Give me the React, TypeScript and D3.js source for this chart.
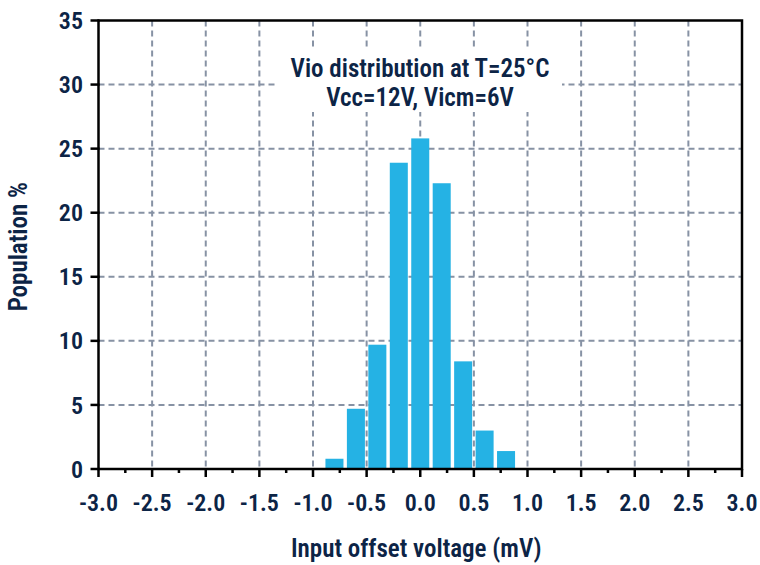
import React from "react";
import * as d3 from "d3";

const binCenters = [-0.8, -0.6, -0.4, -0.2, 0.0, 0.2, 0.4, 0.6, 0.8];
const population = [0.8, 4.7, 9.7, 23.9, 25.8, 22.3, 8.4, 3.0, 1.4];
const xTicks = [-3.0, -2.5, -2.0, -1.5, -1.0, -0.5, 0.0, 0.5, 1.0, 1.5, 2.0, 2.5, 3.0];
const yTicks = [0, 5, 10, 15, 20, 25, 30, 35];
const titleLines = ["Vio distribution at T=25°C", "Vcc=12V, Vicm=6V"];
const xLabel = "Input offset voltage (mV)";
const yLabel = "Population %";
const binWidth = 0.2;

const W = 760, H = 565;
const M = { left: 98.5, right: 742, top: 20.5, bottom: 469 };
const TEXT = "#0c2446";
const GRID = "#8792a4";
const BAR = "#25b2e4";
const FONT = "'Liberation Sans Narrow', 'Roboto Condensed', 'Liberation Sans', sans-serif";

export default function App() {
  const x = d3.scaleLinear().domain([-3, 3]).range([M.left, M.right]);
  const y = d3.scaleLinear().domain([0, 35]).range([M.bottom, M.top]);
  const bw = (x(binWidth) - x(0)) * 0.84;
  const minorTicks = d3.range(-3, 3.001, 0.25).filter((v) => Math.abs(v * 2 - Math.round(v * 2)) > 1e-6);
  const cx = (M.left + M.right) / 2;
  const cy = (M.top + M.bottom) / 2;

  return (
    <svg width={W} height={H} style={{ position: "absolute", left: 0, top: 0, background: "#fff" }}>
      <rect x={0} y={0} width={W} height={H} fill="#fff" />
      <g stroke={GRID} strokeWidth={2} strokeDasharray="6 4">
        {yTicks.filter((t) => t > 0 && t < 35).map((t) => (
          <line key={"gy" + t} x1={M.left} x2={M.right} y1={y(t)} y2={y(t)} />
        ))}
        {xTicks.filter((t) => t > -3 && t < 3).map((t) => (
          <line key={"gx" + t} x1={x(t)} x2={x(t)} y1={M.top} y2={M.bottom} />
        ))}
      </g>
      <rect x={275} y={47} width={287} height={65} fill="#fff" />
      {binCenters.map((c, i) => (
        <rect
          key={"b" + i}
          x={x(c) - bw / 2}
          y={y(population[i])}
          width={bw}
          height={M.bottom - y(population[i])}
          fill={BAR}
        />
      ))}
      <rect x={M.left} y={M.top} width={M.right - M.left} height={M.bottom - M.top} fill="none" stroke="#000" strokeWidth={2.5} />
      <g stroke="#000" strokeWidth={2.5}>
        {yTicks.map((t) => (
          <line key={"ty" + t} x1={M.left - 8} x2={M.left + 1} y1={y(t)} y2={y(t)} />
        ))}
        {xTicks.map((t) => (
          <line key={"tx" + t} x1={x(t)} x2={x(t)} y1={M.bottom} y2={M.bottom + 8} />
        ))}
        {minorTicks.map((t) => (
          <line key={"mx" + t} x1={x(t)} x2={x(t)} y1={M.bottom} y2={M.bottom + 4} />
        ))}
      </g>
      <g fill={TEXT} fontFamily={FONT} fontSize={24} fontWeight={600}>
        {yTicks.map((t) => (
          <text key={"ly" + t} x={83} y={y(t)} dy="0.36em" textAnchor="end">
            {t}
          </text>
        ))}
        {xTicks.map((t) => (
          <text key={"lx" + t} x={x(t)} y={511} textAnchor="middle">
            {d3.format(".1f")(t).replace("−", "-")}
          </text>
        ))}
      </g>
      <g fill={TEXT} fontFamily={FONT} fontSize={25} fontWeight={600} textAnchor="middle">
        {titleLines.map((l, i) => (
          <text key={"t" + i} x={420} y={77 + i * 29}>
            {l}
          </text>
        ))}
      </g>
      <text x={cx - 4} y={557} fill={TEXT} fontFamily={FONT} fontSize={25} fontWeight={600} textAnchor="middle">
        {xLabel}
      </text>
      <text
        transform={`translate(27,${cy + 2}) rotate(-90)`}
        fill={TEXT}
        fontFamily={FONT}
        fontSize={25}
        fontWeight={600}
        textAnchor="middle"
      >
        {yLabel}
      </text>
    </svg>
  );
}
